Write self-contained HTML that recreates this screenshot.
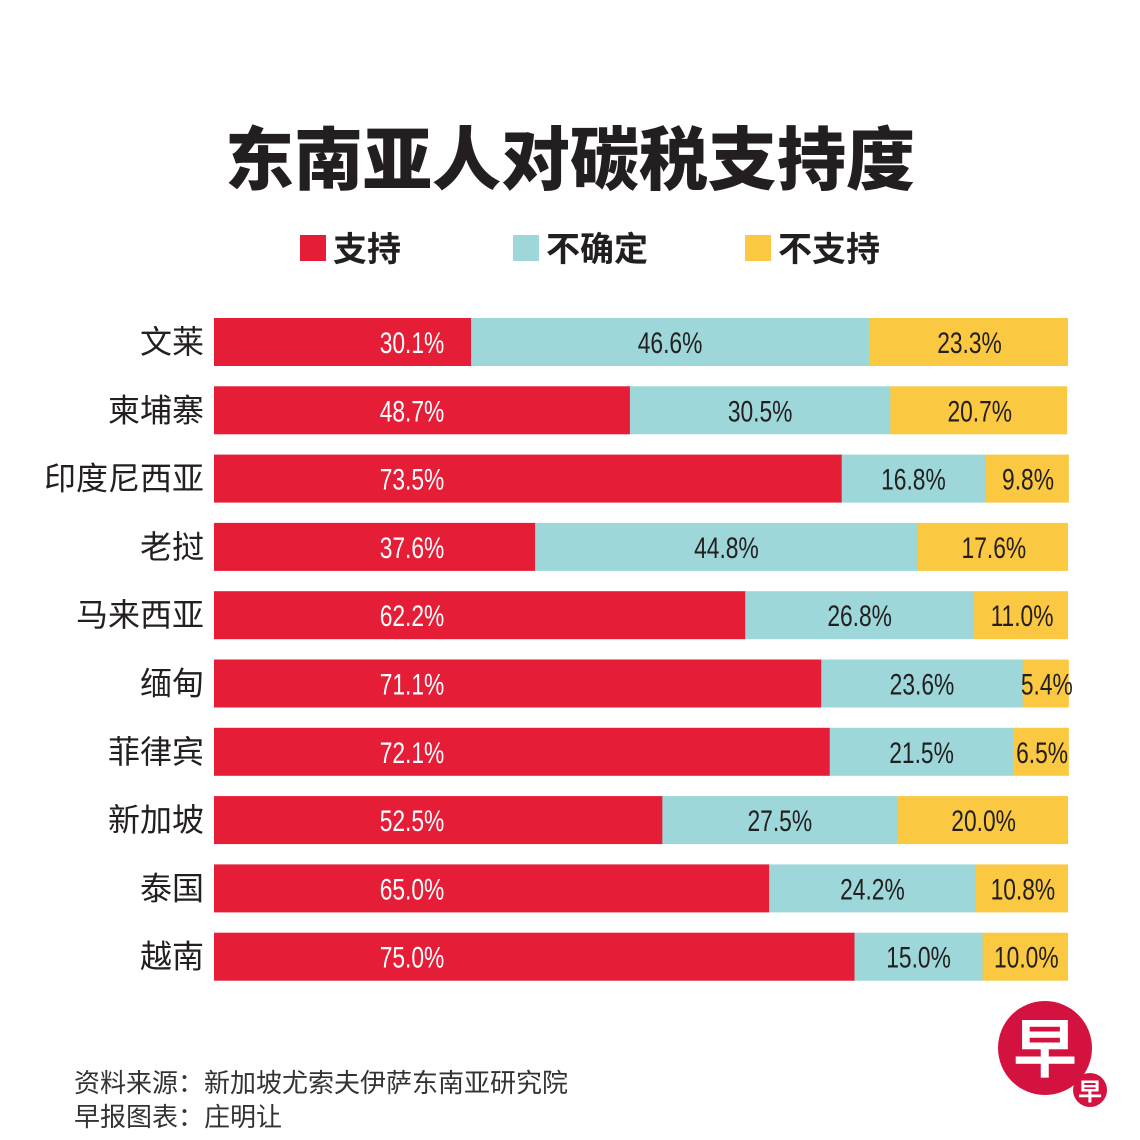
<!DOCTYPE html>
<html><head><meta charset="utf-8"><style>
html,body{margin:0;padding:0;background:#fff;}
svg{display:block;}
.cjk{font-family:"Liberation Sans","Noto Sans CJK SC",sans-serif;}
</style></head><body>
<svg id="chart" width="1140" height="1140" viewBox="0 0 1140 1140">
<text x="570" y="184" text-anchor="middle" font-size="69" font-weight="900" fill="#231f20" class="cjk">东南亚人对碳税支持度</text>
<g>
<g><rect x="300" y="235" width="26" height="26" fill="#e51d37"/><text x="333" y="261" font-size="34" font-weight="bold" fill="#231f20" class="cjk">支持</text></g>
<g><rect x="513" y="235" width="26" height="26" fill="#9dd7d9"/><text x="546" y="261" font-size="34" font-weight="bold" fill="#231f20" class="cjk">不确定</text></g>
<g><rect x="745" y="235" width="26" height="26" fill="#fbc842"/><text x="778" y="261" font-size="34" font-weight="bold" fill="#231f20" class="cjk">不支持</text></g>
</g>
<g id="bars"></g>
<text x="74" y="1092" font-size="26" fill="#333" class="cjk">资料来源：新加坡尤索夫伊萨东南亚研究院</text>
<text x="74" y="1126" font-size="26" fill="#333" class="cjk">早报图表：庄明让</text>
<g>
<circle cx="1045" cy="1048" r="47" fill="#d4123f"/>
<text x="1045" y="1072" text-anchor="middle" font-size="64" font-weight="bold" fill="#fff" class="cjk">早</text>
<circle cx="1090" cy="1090" r="17" fill="#d4123f"/>
<text x="1090" y="1100" text-anchor="middle" font-size="24" font-weight="bold" fill="#fff" class="cjk">早</text>
</g>
</svg>
<script>
const countries=["文莱","柬埔寨","印度尼西亚","老挝","马来西亚","缅甸","菲律宾","新加坡","泰国","越南"];
const support=[30.1,48.7,73.5,37.6,62.2,71.1,72.1,52.5,65.0,75.0];
const unsure=[46.6,30.5,16.8,44.8,26.8,23.6,21.5,27.5,24.2,15.0];
const oppose=[23.3,20.7,9.8,17.6,11.0,5.4,6.5,20.0,10.8,10.0];
const NS="http://www.w3.org/2000/svg";
const X0=214,W=854,Y0=318,STEP=68.3,H=48;
function xs(v){return X0+v/100*W;}
function yr(i){return Y0+i*STEP;}
const g=document.getElementById('bars');
function mk(tag,attrs){const e=document.createElementNS(NS,tag);for(const k in attrs)e.setAttribute(k,attrs[k]);return e;}
function label(x,y,txt,fill){
 const t=mk('text',{x:0,y:0,'text-anchor':'middle','font-size':30,fill:fill,'font-family':'Liberation Sans, sans-serif',transform:`translate(${x},${y}) scale(0.76,1)`});
 t.textContent=txt;return t;}
countries.forEach((c,i)=>{
 const y=yr(i);
 const row=mk('g',{});
 
 
 const n=mk('text',{x:204,y:y+35,'text-anchor':'end','font-size':32,fill:'#231f20',class:'cjk'});
 
 
 n.textContent=c;row.appendChild(n);
 const a=support[i],b=unsure[i],d=oppose[i];
 const segs=[[0,a,'#e51d37'],[a,a+b,'#9dd7d9'],[a+b,a+b+d,'#fbc842']];
 const names=['bar-support','bar-unsure','bar-oppose'];
 segs.forEach((s,k)=>{
  const r=mk('rect',{x:xs(s[0]),y:y,width:xs(s[1])-xs(s[0])+(k<2?0.5:0),height:H,fill:s[2]});
  
  
  row.appendChild(r);
 });
 const l1=label(412,y+35,a.toFixed(1)+'%','#fff');
 
 
 row.appendChild(l1);
 const l2=label((xs(a)+xs(a+b))/2,y+35,b.toFixed(1)+'%','#231f20');
 
 
 row.appendChild(l2);
 const l3=label((xs(a+b)+xs(a+b+d))/2+1,y+35,d.toFixed(1)+'%','#231f20');
 
 
 row.appendChild(l3);
 g.appendChild(row);
});
</script>
</body></html>
